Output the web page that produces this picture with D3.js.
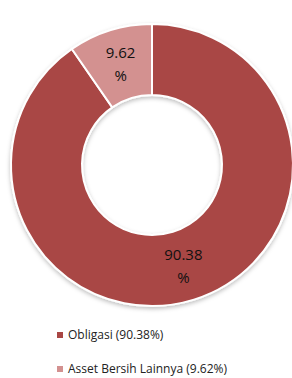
<!DOCTYPE html>
<html>
<head>
<meta charset="utf-8">
<script src="https://cdn.jsdelivr.net/npm/d3@7"></script>
<style>
  body { margin: 0; background: #fff; }
  svg { display: block; font-family: "Open Sans", "Noto Sans", sans-serif; }
</style>
</head>
<body>
<svg width="292" height="378"></svg>
<script>
// data
var categories = ["Obligasi", "Asset Bersih Lainnya"];
var values = [90.38, 9.62];
var colors = ["#A94744", "#D39190"];

var svg = d3.select("svg");
var cx = 152, cy = 165, outerR = 141, innerR = 70;

// soft shadow under the ring
var defs = svg.append("defs");
var f = defs.append("filter").attr("id", "shadow")
  .attr("x", "-10%").attr("y", "-10%").attr("width", "120%").attr("height", "120%");
f.append("feDropShadow").attr("dx", 0).attr("dy", 2).attr("stdDeviation", 2)
  .attr("flood-color", "#000").attr("flood-opacity", 0.25);

var pie = d3.pie().sort(null).value(function (d) { return d; });
var arc = d3.arc().innerRadius(innerR).outerRadius(outerR);
var arcs = pie(values);

var g = svg.append("g").attr("transform", "translate(" + cx + "," + cy + ")");

g.append("g").attr("filter", "url(#shadow)")
  .selectAll("path")
  .data(arcs)
  .enter().append("path")
  .attr("d", arc)
  .attr("fill", function (d, i) { return colors[i]; })
  .attr("stroke", "#fff")
  .attr("stroke-width", 2);

// slice labels, value on one line and % below
var labels = g.selectAll(".lbl")
  .data(arcs)
  .enter().append("text")
  .attr("class", "lbl")
  .attr("transform", function (d) { return "translate(" + arc.centroid(d) + ")"; })
  .attr("text-anchor", "middle")
  .attr("font-size", "15px")
  .attr("fill", "#111");
labels.append("tspan").attr("x", 0).attr("y", -6).text(function (d) { return d.data.toFixed(2); });
labels.append("tspan").attr("x", 0).attr("y", 17).text("%");

// legend
var legend = svg.selectAll(".legend")
  .data(categories)
  .enter().append("g")
  .attr("class", "legend")
  .attr("transform", function (d, i) { return "translate(57," + (335 + i * 34) + ")"; });

legend.append("rect")
  .attr("x", 0).attr("y", -3)
  .attr("width", 6).attr("height", 6)
  .attr("fill", function (d, i) { return colors[i]; });

legend.append("text")
  .attr("x", 11)
  .attr("dy", "0.35em")
  .attr("font-size", "12px")
  .attr("fill", "#222")
  .text(function (d, i) { return d + " (" + values[i].toFixed(2) + "%)"; });
</script>
</body>
</html>
